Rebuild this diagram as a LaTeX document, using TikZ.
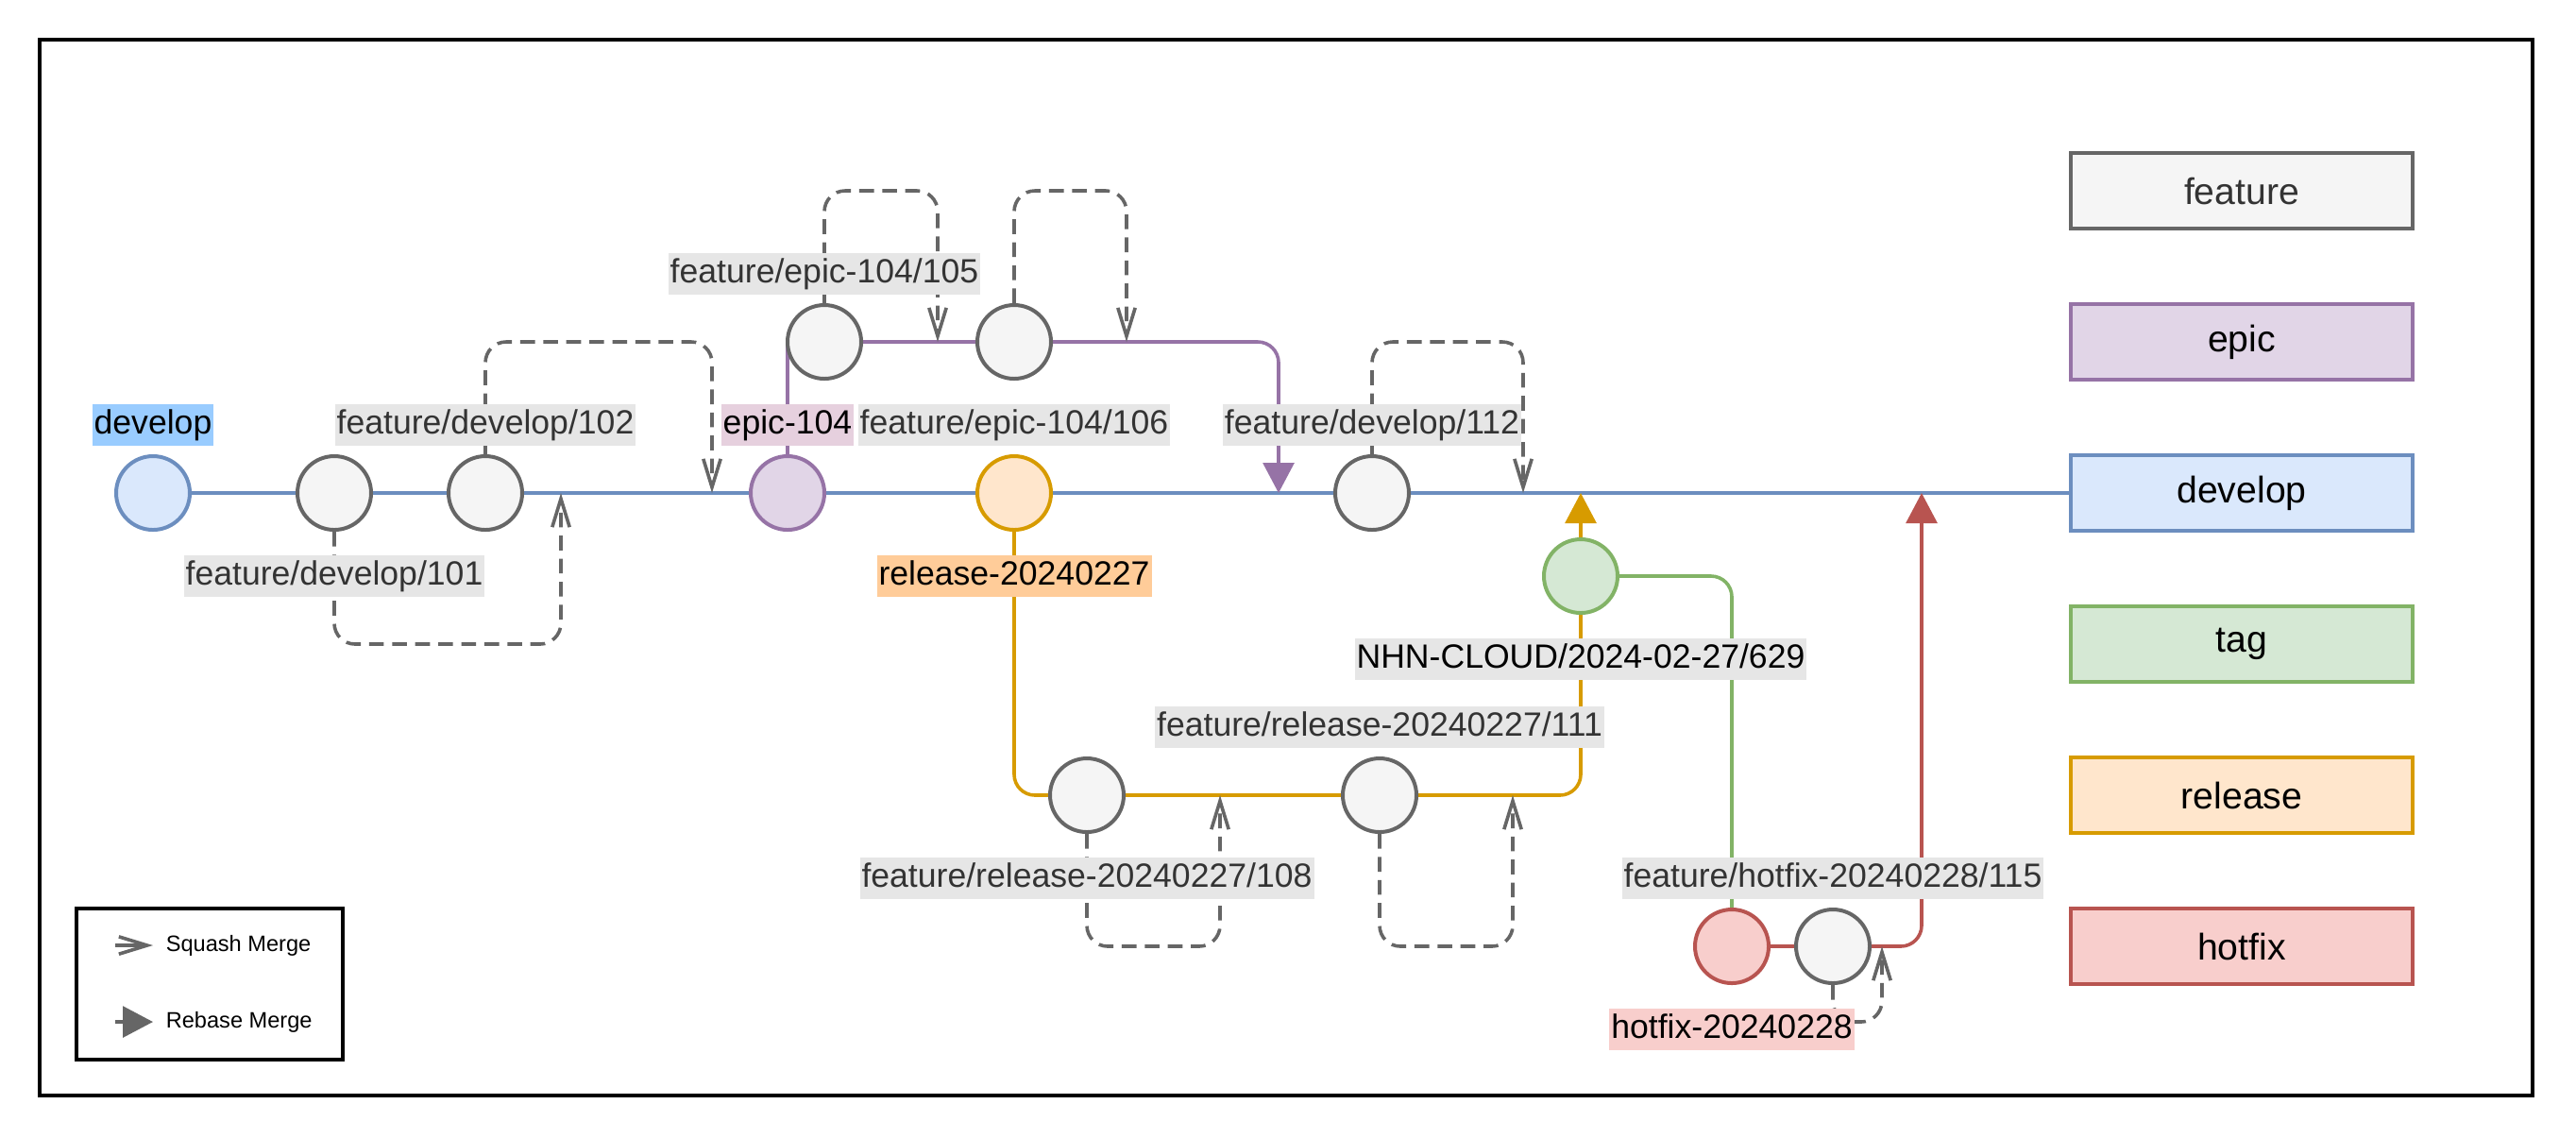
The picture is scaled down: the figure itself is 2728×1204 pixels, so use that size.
\documentclass[tikz,border=0pt]{standalone}
\usepackage{fontspec}
\setmainfont{Liberation Sans}
\usetikzlibrary{arrows.meta,positioning,backgrounds}

\definecolor{featFill}{HTML}{F5F5F5}
\definecolor{featDraw}{HTML}{666666}
\definecolor{featText}{HTML}{333333}
\definecolor{epicFill}{HTML}{E1D5E7}
\definecolor{epicDraw}{HTML}{9673A6}
\definecolor{devFill}{HTML}{DAE8FC}
\definecolor{devDraw}{HTML}{6C8EBF}
\definecolor{tagFill}{HTML}{D5E8D4}
\definecolor{tagDraw}{HTML}{82B366}
\definecolor{relFill}{HTML}{FFE6CC}
\definecolor{relDraw}{HTML}{D79B00}
\definecolor{hotFill}{HTML}{F8CECC}
\definecolor{hotDraw}{HTML}{B85450}
\definecolor{lblGray}{HTML}{E6E6E6}
\definecolor{lblDev}{HTML}{99CCFF}
\definecolor{lblEpic}{HTML}{E6D0DE}
\definecolor{lblRel}{HTML}{FFCC99}

\tikzset{
  commit/.style={circle, line width=1pt, minimum size=19.5pt, inner sep=0pt},
  featcommit/.style={commit, draw=featDraw, fill=featFill},
  epiccommit/.style={commit, draw=epicDraw, fill=epicFill},
  devcommit/.style={commit, draw=devDraw, fill=devFill},
  tagcommit/.style={commit, draw=tagDraw, fill=tagFill},
  relcommit/.style={commit, draw=relDraw, fill=relFill},
  hotcommit/.style={commit, draw=hotDraw, fill=hotFill},
  lbl/.style={fill=lblGray, text=featText, inner xsep=0.5pt, inner ysep=1.1pt,
    text height=6.8pt, text depth=2pt, font=\fontsize{8.9}{10}\selectfont},
  branch/.style={line width=0.9pt, rounded corners=5.5pt},
  squash/.style={draw=featDraw, line width=0.9pt, dash pattern=on 3.9pt off 2.2pt,
    rounded corners=5.5pt, -{Straight Barb[length=7.5pt,width=4.6pt]}},
  rebase/.style={-{Triangle[length=8pt,width=8.2pt]}},
  legendbox/.style={rectangle, line width=1pt, minimum width=90.5pt,
    minimum height=20pt, inner sep=0pt, font=\fontsize{9.8}{11}\selectfont},
  keytext/.style={inner sep=0pt, anchor=west, font=\fontsize{5.9}{7}\selectfont}
}

\begin{document}
\begin{tikzpicture}[x=0.25pt,y=-0.25pt]
  \useasboundingbox (0,0) rectangle (2728,1204);
  \draw[line width=1.1pt] (42,42) rectangle (2682,1160);

  % commits
  \node[devcommit] (dev) at (162,522) {};
  \node[featcommit] (f101) at (354,522) {};
  \node[featcommit] (f102) at (514,522) {};
  \node[epiccommit] (epic) at (834,522) {};
  \node[relcommit] (rel) at (1074,522) {};
  \node[featcommit] (f112) at (1453,522) {};
  \node[featcommit] (e105) at (873,362) {};
  \node[featcommit] (e106) at (1074,362) {};
  \node[tagcommit] (tag) at (1674,610) {};
  \node[featcommit] (r108) at (1151,842) {};
  \node[featcommit] (r111) at (1461,842) {};
  \node[hotcommit] (hfx) at (1834,1002) {};
  \node[featcommit] (h115) at (1941,1002) {};

  % branch legend
  \node[legendbox, draw=featDraw, fill=featFill, text=featText] (lgfeat) at (2374,202) {feature};
  \node[legendbox, draw=epicDraw, fill=epicFill] (lgepic) at (2374,362) {epic};
  \node[legendbox, draw=devDraw, fill=devFill] (lgdev) at (2374,522) {develop};
  \node[legendbox, draw=tagDraw, fill=tagFill] (lgtag) at (2374,682) {tag};
  \node[legendbox, draw=relDraw, fill=relFill] (lgrel) at (2374,842) {release};
  \node[legendbox, draw=hotDraw, fill=hotFill] (lghot) at (2374,1002) {hotfix};

  % merge points
  \coordinate (m101) at (594,522);
  \coordinate (m102) at (754,522);
  \coordinate (m105) at (993,362);
  \coordinate (m106) at (1193,362);
  \coordinate (mepic) at (1354,522);
  \coordinate (m112) at (1613,522);
  \coordinate (m108) at (1292,842);
  \coordinate (m111) at (1602,842);
  \coordinate (mtag) at (1674,522);
  \coordinate (m115) at (1993,1002);
  \coordinate (mhot) at (2035,522);
  \coordinate (j105) at (epic.north |- e105.west);

  \begin{scope}[on background layer]
    \fill[white] (0,0) rectangle (2728,1204);
    \draw[branch, draw=devDraw] (dev) -- (lgdev);
    \draw[branch, draw=epicDraw] (epic.north) -- (j105);
    \draw[branch, draw=epicDraw] (e105) -- (e106);
    \draw[branch, draw=epicDraw, rebase] (e106) -| (mepic);
    \draw[branch, draw=relDraw] (rel) |- (r108);
    \draw[branch, draw=relDraw] (r108) -- (r111);
    \draw[branch, draw=relDraw] (r111) -| (tag);
    \draw[branch, draw=relDraw, rebase] (tag) -- (mtag);
    \draw[branch, draw=tagDraw] (tag) -| (hfx);
    \draw[branch, draw=hotDraw] (hfx) -- (h115);
    \draw[branch, draw=hotDraw, rebase] (h115) -| (mhot);

    \draw[squash] (f101.south) -- ++(0,119) -| (m101);
    \draw[squash] (f102.north) -- ++(0,-119) -| (m102);
    \draw[squash] (e105.north) -- ++(0,-119) -| (m105);
    \draw[squash] (e106.north) -- ++(0,-119) -| (m106);
    \draw[squash] (f112.north) -- ++(0,-119) -| (m112);
    \draw[squash] (r108.south) -- ++(0,119) -| (m108);
    \draw[squash] (r111.south) -- ++(0,119) -| (m111);
    \draw[squash] (h115.south) -- ++(0,39) -| (m115);
  \end{scope}

  % labels
  \node[lbl, fill=lblDev, text=black, above=2pt of dev] (ldev) {develop};
  \node[lbl, below=6pt of f101] (l101) {feature/develop/101};
  \node[lbl, above=2pt of f102] (l102) {feature/develop/102};
  \node[lbl, fill=lblEpic, text=black, above=2pt of epic] (lepic) {epic-104};
  \node[lbl, above=2pt of e105] (l105) {feature/epic-104/105};
  \node[lbl, below=6pt of e106] (l106) {feature/epic-104/106};
  \node[lbl, fill=lblRel, text=black, below=6pt of rel] (lrel) {release-20240227};
  \node[lbl, above=2pt of f112] (l112) {feature/develop/112};
  \node[lbl, text=black, below=6pt of tag] (ltag) {NHN-CLOUD/2024-02-27/629};
  \node[lbl, below=6pt of r108] (l108) {feature/release-20240227/108};
  \node[lbl, above=2pt of r111] (l111) {feature/release-20240227/111};
  \node[lbl, above=2pt of h115] (l115) {feature/hotfix-20240228/115};
  \node[lbl, fill=hotFill, text=black, below=6pt of hfx] (lhfx) {hotfix-20240228};

  % merge legend
  \node[draw, line width=0.9pt, minimum width=70.5pt, minimum height=40pt] (keybox) at (222,1042) {};
  \coordinate (sqA) at (122,1001);
  \coordinate (sqB) at (162,1001);
  \coordinate (rbA) at (122,1082);
  \coordinate (rbB) at (162,1082);
  \draw[squash, solid] (sqA) -- (sqB);
  \draw[branch, draw=featDraw, rebase] (rbA) -- (rbB);
  \node[keytext] (tsq) at (175,1001) {Squash Merge};
  \node[keytext] (trb) at (175,1082) {Rebase Merge};
\end{tikzpicture}
\end{document}
